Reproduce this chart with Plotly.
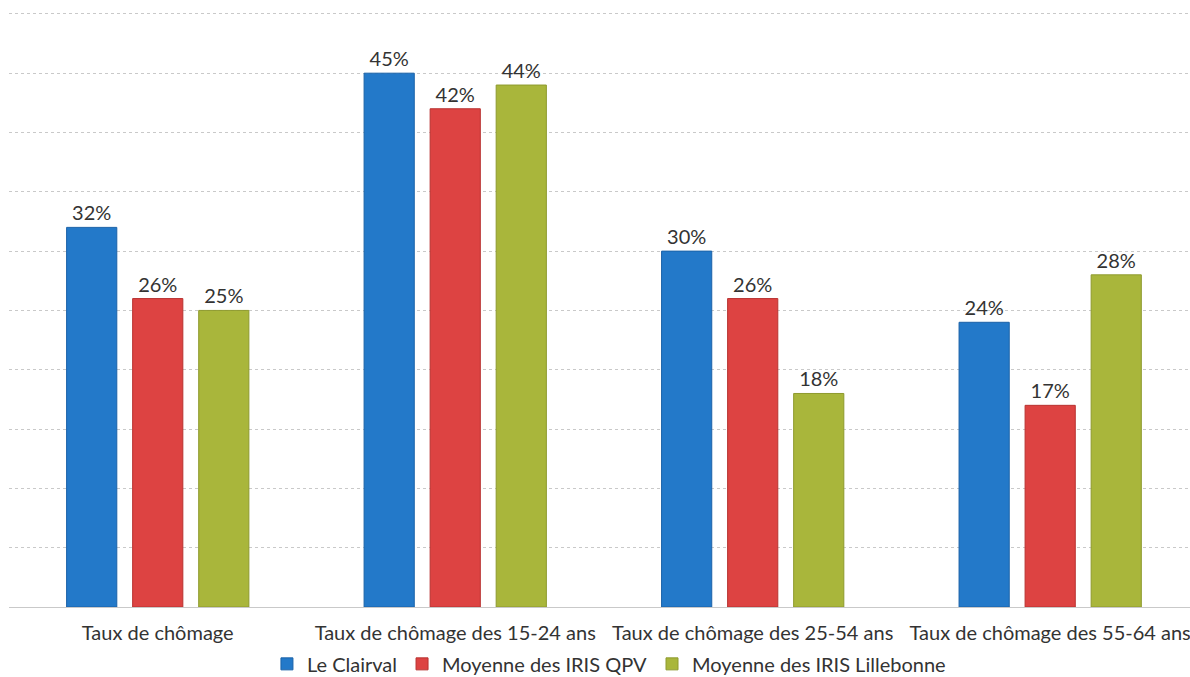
import plotly.graph_objects as go

categories = ["Taux de chômage", "Taux de chômage des 15-24 ans",
              "Taux de chômage des 25-54 ans", "Taux de chômage des 55-64 ans"]
series_names = ["Le Clairval", "Moyenne des IRIS QPV", "Moyenne des IRIS Lillebonne"]
le_clairval = [32, 45, 30, 24]
iris_qpv = [26, 42, 26, 17]
iris_lillebonne = [25, 44, 18, 28]
colors = ["#2379C9", "#DD4342", "#A9B63B"]
outlines = ["#1B62A8", "#B83230", "#8E9A2E"]

FONT = "Lato, Open Sans, sans-serif"

fig = go.Figure()
for name, vals, c, oc in zip(series_names, [le_clairval, iris_qpv, iris_lillebonne], colors, outlines):
    fig.add_trace(go.Bar(
        x=categories, y=vals, name=name,
        marker=dict(color=c, line=dict(color=oc, width=1)),
        text=[f"{v}%" for v in vals], textposition="outside",
        textfont=dict(size=20, color="#333333", family=FONT),
        cliponaxis=False,
    ))

fig.update_layout(
    width=1190, height=677,
    margin=dict(l=9, r=0, t=2, b=70, autoexpand=False),
    paper_bgcolor="white", plot_bgcolor="white",
    barmode="group", bargap=0.334, bargroupgap=0.24,
    font=dict(family=FONT, color="#333333", size=20),
    showlegend=True,
    legend=dict(orientation="h", x=0.508, xanchor="center", y=-0.094, yanchor="middle",
                font=dict(size=20, color="#333333"), itemwidth=30, traceorder="normal"),
)
fig.update_xaxes(range=[-0.5, 3.47], showgrid=False, showline=False, ticks="",
                 ticklabelstandoff=12, tickfont=dict(size=20, color="#333333"),
                 automargin=False)
fig.update_yaxes(range=[0, 51], tick0=0, dtick=5, showgrid=True, gridcolor="#c9c9c9",
                 griddash="dot", gridwidth=1, showticklabels=False, zeroline=True,
                 zerolinecolor="#c9c9c9", zerolinewidth=1, showline=False, automargin=False)

fig.write_html("out.html")
